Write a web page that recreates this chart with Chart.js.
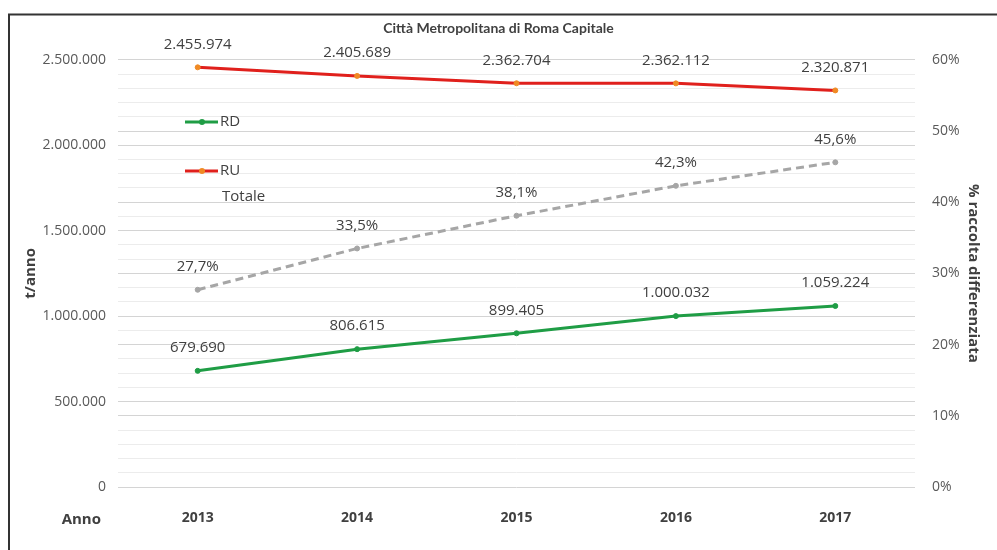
<!DOCTYPE html>
<html lang="it">
<head>
<meta charset="utf-8">
<title>Città Metropolitana di Roma Capitale</title>
<script src="https://cdn.jsdelivr.net/npm/chart.js@4.4.1/dist/chart.umd.min.js"></script>
<style>
  html, body { margin: 0; padding: 0; background: #fff; }
  canvas { display: block; }
</style>
</head>
<body>
<canvas id="chart" width="997" height="550"></canvas>
<script>
// dati: Città Metropolitana di Roma Capitale, t/anno e % RD
const ANNI = ['2013', '2014', '2015', '2016', '2017'];
const RU = [2455974, 2405689, 2362704, 2362112, 2320871];
const RD = [679690, 806615, 899405, 1000032, 1059224];
const TOTALE_PCT = [27.7, 33.5, 38.1, 42.3, 45.6];
const TICK_PCT = [0, 10, 20, 30, 40, 50, 60];

const FONT = '"Open Sans", sans-serif';
const TXT = '#404040';

function migliaia(v) { return String(v).replace(/\B(?=(\d{3})+(?!\d))/g, '.'); }
function perc(v) { return v.toFixed(1).replace('.', ',') + '%'; }
const FORMATO = { RU: migliaia, RD: migliaia, Totale: perc };

// ── cornice + sfondo (solo bordo sopra e a sinistra visibile) ────
const cornice = {
    id: 'cornice',
    beforeDraw(chart) {
        const ctx = chart.ctx;
        ctx.save();
        ctx.fillStyle = '#fff';
        ctx.fillRect(0, 0, chart.width, chart.height);
        ctx.strokeStyle = '#333';
        ctx.lineWidth = 2;
        ctx.strokeRect(9, 14.5, 1000, 550);
        ctx.restore();
    },
};

// ── etichette sui punti ──────────────────────────────────────────
const etichette = {
    id: 'etichette',
    afterDatasetsDraw(chart) {
        const ctx = chart.ctx;
        ctx.save();
        ctx.font = '15px ' + FONT;
        ctx.fillStyle = TXT;
        ctx.textAlign = 'center';
        ctx.textBaseline = 'middle';
        chart.data.datasets.forEach((ds, i) => {
            const f = FORMATO[ds.label];
            chart.getDatasetMeta(i).data.forEach((pt, j) => {
                ctx.fillText(f(ds.data[j]), pt.x, pt.y - 23);
            });
        });
        ctx.restore();
    },
};

// ── legenda dentro il grafico + "Anno" ───────────────────────────
const legenda = {
    id: 'legenda',
    afterDraw(chart) {
        const ctx = chart.ctx;
        const voci = chart.data.datasets;
        ctx.save();
        ctx.font = '15px ' + FONT;
        ctx.fillStyle = TXT;
        ctx.textBaseline = 'middle';
        [[voci[1], 122], [voci[0], 171]].forEach(([ds, y]) => {
            ctx.strokeStyle = ds.borderColor;
            ctx.lineWidth = 3;
            ctx.beginPath(); ctx.moveTo(185, y); ctx.lineTo(218, y); ctx.stroke();
            ctx.fillStyle = ds.pointBackgroundColor;
            ctx.beginPath(); ctx.arc(202, y, 3, 0, Math.PI * 2); ctx.fill();
            ctx.fillStyle = TXT;
            ctx.fillText(ds.label, 220, y);
        });
        ctx.fillText(voci[2].label, 222, 197);

        ctx.font = 'bold 15px ' + FONT;
        ctx.textAlign = 'right';
        ctx.fillText('Anno', 101, 520);
        ctx.restore();
    },
};

new Chart(document.getElementById('chart'), {
    type: 'line',
    data: {
        labels: ANNI,
        datasets: [
            { label: 'RU', data: RU, yAxisID: 'y', borderColor: '#e0201c', backgroundColor: '#f08a24', pointBackgroundColor: '#f08a24', pointBorderColor: '#f08a24', borderWidth: 3, pointRadius: 2.5, pointBorderWidth: 1 },
            { label: 'RD', data: RD, yAxisID: 'y', borderColor: '#1f9d45', backgroundColor: '#1f9d45', pointBackgroundColor: '#1f9d45', pointBorderColor: '#1f9d45', borderWidth: 3, pointRadius: 2.5, pointBorderWidth: 1 },
            { label: 'Totale', data: TOTALE_PCT, yAxisID: 'y1', borderColor: '#a6a6a6', backgroundColor: '#a6a6a6', pointBackgroundColor: '#a6a6a6', pointBorderColor: '#a6a6a6', borderWidth: 3, borderDash: [8, 5], pointRadius: 2.5, pointBorderWidth: 1 },
        ],
    },
    options: {
        responsive: false,
        animation: false,
        layout: { padding: 0 },
        plugins: {
            legend: { display: false },
            tooltip: { enabled: false },
            title: {
                display: true,
                text: 'Città Metropolitana di Roma Capitale',
                color: TXT,
                font: { family: 'Lato', size: 14, weight: 'bold' },
                padding: { top: 20, bottom: 23 },
            },
        },
        scales: {
            x: {
                offset: true,
                grid: { display: false, drawTicks: false },
                border: { display: false },
                ticks: { color: TXT, padding: 23, font: { family: FONT, size: 14, weight: 'bold' } },
                afterFit: (s) => { s.height = 63; },
            },
            y: {
                position: 'left',
                min: 0,
                max: 2500000,
                ticks: { stepSize: 500000, padding: 12, color: '#595959', font: { family: FONT, size: 14 }, callback: (v) => migliaia(v) },
                grid: { display: false, drawTicks: false },
                border: { display: false },
                title: { display: true, text: 't/anno', color: TXT, font: { family: FONT, size: 15, weight: 'bold' }, padding: { top: 22 } },
                afterFit: (s) => { s.width = 118; },
            },
            y1: {
                position: 'right',
                min: 0,
                max: 60,
                ticks: {
                    stepSize: 2, autoSkip: false, padding: 17, color: '#595959', font: { family: FONT, size: 14 },
                    callback: (v) => TICK_PCT.includes(v) ? v + '%' : '',
                },
                grid: {
                    drawTicks: false,
                    lineWidth: 1,
                    color: (c) => (c.tick.value % 10 === 0 || c.tick.value % 12 === 0) ? '#d4d4d4' : '#ececec',
                },
                border: { display: false },
                title: { display: true, text: '% raccolta differenziata', color: TXT, font: { family: FONT, size: 15, weight: 'bold' }, padding: { top: 15 } },
                afterFit: (s) => { s.width = 82; },
            },
        },
    },
    plugins: [cornice, etichette, legenda],
});
</script>
</body>
</html>
